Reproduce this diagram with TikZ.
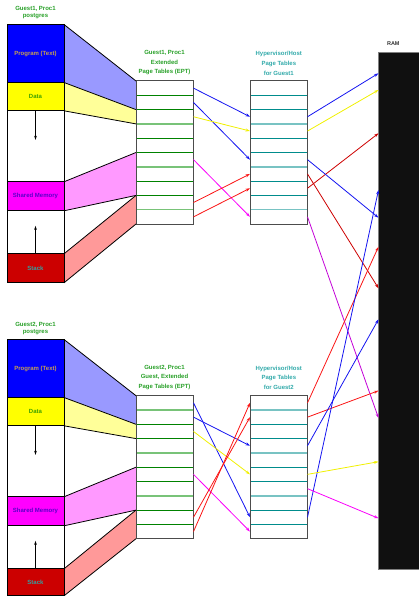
\documentclass[tikz,border=0pt]{standalone}
\usepackage{fontspec}
\setmainfont{Liberation Sans}
\usetikzlibrary{arrows.meta}
\pgfdeclarelayer{background}
\pgfsetlayers{background,main}

% segment colours and their lighter mapping bands
\definecolor{progblue}{RGB}{0,0,255}
\definecolor{lav}{RGB}{153,153,255}
\definecolor{dat}{RGB}{255,255,0}
\definecolor{ldat}{RGB}{255,255,153}
\definecolor{shm}{RGB}{255,0,255}
\definecolor{lshm}{RGB}{255,153,255}
\definecolor{stk}{RGB}{204,0,0}
\definecolor{lstk}{RGB}{255,153,153}
% text colours
\definecolor{ttlgreen}{RGB}{40,160,40}
\definecolor{ttlteal}{RGB}{50,170,170}
\definecolor{progtxt}{RGB}{200,160,80}
\definecolor{dattxt}{RGB}{60,160,0}
\definecolor{shmtxt}{RGB}{90,0,200}
\definecolor{stktxt}{RGB}{50,160,160}
% table rules
\definecolor{eptdark}{RGB}{0,130,0}
\definecolor{eptlight}{RGB}{120,195,120}
\definecolor{hostdark}{RGB}{0,140,140}
\definecolor{hostlight}{RGB}{120,195,195}
\definecolor{ramfill}{RGB}{16,16,16}
% mapping arrows
\definecolor{arblue}{RGB}{20,20,240}
\definecolor{arred}{RGB}{250,20,20}
\definecolor{ardred}{RGB}{205,0,0}
\definecolor{aryel}{RGB}{240,240,0}
\definecolor{armag}{RGB}{250,0,250}
\definecolor{ardmag}{RGB}{195,0,215}

\begin{document}
\begin{tikzpicture}[x=1pt,y=-1pt,
  seg/.style={draw=black, line width=0.8pt, minimum width=57pt, inner sep=0pt,
    outer sep=0pt, anchor=north west, font=\fontsize{6}{7}\selectfont\bfseries},
  cell/.style={minimum width=57.5pt, minimum height=14.3pt, inner sep=0pt,
    outer sep=0pt, anchor=north west},
  tframe/.style={draw=black!70, line width=1pt},
  edge/.style={draw=black, line width=0.8pt},
  ptitle/.style={align=center, inner sep=0pt, font=\fontsize{6}{7}\selectfont\bfseries},
  ttitle/.style={align=center, inner sep=0pt, font=\fontsize{6}{9.7}\selectfont\bfseries},
  ar/.style={line width=0.8pt, -{Stealth[length=4.5pt,width=3pt]}},
  garrow/.style={line width=0.7pt, -{Stealth[length=4pt,width=2.6pt]}},
  erule/.style={eptdark, line width=0.8pt},
  erulel/.style={eptlight, line width=1.4pt},
  hrule/.style={hostdark, line width=0.8pt},
  hrulel/.style={hostlight, line width=1.4pt}]

\useasboundingbox (0,0) rectangle (418,596);

% RAM column
\node[draw=gray, line width=1pt, fill=ramfill, minimum width=44pt, minimum height=517pt,
  anchor=north west, inner sep=0pt, outer sep=0pt] (ram) at (378.5,52.3) {};
\node[font=\fontsize{5.5}{6}\selectfont\bfseries, text=black!80] (ramlbl) at (393.3,43.3) {RAM};

% titles
\node[ptitle, text=ttlgreen] (pt1) at (35.5,12.3) {Guest1, Proc1\\postgres};
\node[ptitle, text=ttlgreen] (pt2) at (35.5,328.2) {Guest2, Proc1\\postgres};
\node[ttitle, text=ttlgreen] (et1) at (164.5,62.6) {Guest1, Proc1\\Extended\\Page Tables (EPT)};
\node[ttitle, text=ttlgreen] (et2) at (164.5,377.4) {Guest2, Proc1\\Guest, Extended\\Page Tables (EPT)};
\node[ttitle, text=ttlteal] (ht1) at (278.8,63.4) {Hypervisor/Host\\Page Tables\\for Guest1};
\node[ttitle, text=ttlteal] (ht2) at (278.8,377.6) {Hypervisor/Host\\Page Tables\\for Guest2};

\foreach \g/\t/\sh/\et in {1/24.5/29/81, 2/339.5/27/395.7}{
  % process address space
  \node[seg, fill=progblue, text=progtxt, minimum height=58pt] (prog\g) at (7,\t) {Program (Text)};
  \node[seg, fill=dat, text=dattxt, minimum height=28.3pt] (data\g) at (prog\g.south west) {Data};
  \node[seg, fill=white, minimum height=71pt] (gapa\g) at (data\g.south west) {};
  \node[seg, fill=shm, text=shmtxt, minimum height=29pt] (shm\g) at (gapa\g.south west) {Shared Memory};
  \node[seg, fill=white, minimum height=43pt] (gapb\g) at (shm\g.south west) {};
  \node[seg, fill=stk, text=stktxt, minimum height=\sh pt] (stk\g) at (gapb\g.south west) {Stack};
  % heap grows down, stack grows up
  \path (data\g.south) ++(0,29) coordinate (dn\g);
  \path (stk\g.north) ++(0,-28) coordinate (up\g);
  \draw[garrow] (data\g.south) -- (dn\g);
  \draw[garrow] (stk\g.north) -- (up\g);

  % guest EPT and host page table entries
  \foreach \i in {1,...,10}{
    \node[cell] (e\g-\i) at (136,{\et+(\i-1)*14.3}) {};
    \node[cell] (h\g-\i) at (250,{\et+(\i-1)*14.3}) {};
  }
}

% entry separators
\foreach \i in {1,2,4,5,7,8}{
  \draw[erule] (e1-\i.south west) -- (e1-\i.south east);
  \draw[hrule] (h1-\i.south west) -- (h1-\i.south east);
}
\foreach \i in {3,6,9}{
  \draw[erulel] (e1-\i.south west) -- (e1-\i.south east);
  \draw[hrulel] (h1-\i.south west) -- (h1-\i.south east);
}
\foreach \i in {2,3,5,6,8,9}{
  \draw[erule] (e2-\i.south west) -- (e2-\i.south east);
  \draw[hrule] (h2-\i.south west) -- (h2-\i.south east);
}
\foreach \i in {1,4,7}{
  \draw[erulel] (e2-\i.south west) -- (e2-\i.south east);
  \draw[hrulel] (h2-\i.south west) -- (h2-\i.south east);
}

\foreach \g in {1,2}{
  \draw[tframe] (e\g-1.north west) rectangle (e\g-10.south east);
  \draw[tframe] (h\g-1.north west) rectangle (h\g-10.south east);

  % bands from segments to EPT entries
  \begin{pgfonlayer}{background}
    \fill[lav] (prog\g.north east) -- (e\g-1.north west) -- (e\g-2.south west) -- (prog\g.south east) -- cycle;
    \fill[ldat] (data\g.north east) -- (e\g-3.north west) -- (e\g-3.south west) -- (data\g.south east) -- cycle;
    \fill[lshm] (shm\g.north east) -- (e\g-6.north west) -- (e\g-8.south west) -- (shm\g.south east) -- cycle;
    \fill[lstk] (stk\g.north east) -- (e\g-9.north west) -- (e\g-10.south west) -- (stk\g.south east) -- cycle;
  \end{pgfonlayer}
  \draw[edge] (prog\g.north east) -- (e\g-1.north west);
  \draw[edge] (prog\g.south east) -- (e\g-2.south west);
  \draw[edge] (data\g.south east) -- (e\g-3.south west);
  \draw[edge] (shm\g.north east) -- (e\g-6.north west);
  \draw[edge] (shm\g.south east) -- (e\g-8.south west);
  \draw[edge] (stk\g.north east) -- (e\g-9.north west);
  \draw[edge] (stk\g.south east) -- (e\g-10.south west);
}

% guest 1: EPT -> host page tables
\draw[ar, arblue] (e1-1.east) -- (h1-3.west);
\draw[ar, arblue] (e1-2.east) -- (h1-6.west);
\draw[ar, aryel] (e1-3.east) -- (h1-4.west);
\draw[ar, armag] (e1-6.east) -- (h1-10.west);
\draw[ar, arred] (e1-9.east) -- (h1-7.west);
\draw[ar, arred] (e1-10.east) -- (h1-8.west);

% guest 2: EPT -> host page tables
\draw[ar, arblue] (e2-1.east) -- (h2-9.west);
\draw[ar, arblue] (e2-2.east) -- (h2-4.west);
\draw[ar, aryel] (e2-3.east) -- (h2-6.west);
\draw[ar, armag] (e2-6.east) -- (h2-10.west);
\draw[ar, arred] (e2-9.east) -- (h2-2.west);
\draw[ar, arred] (e2-10.east) -- (h2-1.west);

% physical frames on the RAM edge
\coordinate (f1a) at (378.5,73.3);
\coordinate (f1b) at (378.5,90);
\coordinate (f1c) at (378.5,133.3);
\coordinate (f1d) at (378.5,217.7);
\coordinate (f1e) at (378.5,288.3);
\coordinate (f1f) at (378.5,418);
\coordinate (f2a) at (378.5,246.7);
\coordinate (f2b) at (378.5,390.7);
\coordinate (f2c) at (378.5,319.3);
\coordinate (f2d) at (378.5,190);
\coordinate (f2e) at (378.5,461.7);
\coordinate (f2f) at (378.5,518.3);

% guest 1: host page tables -> RAM
\draw[ar, arblue] (h1-3.east) -- (f1a);
\draw[ar, aryel] (h1-4.east) -- (f1b);
\draw[ar, ardred] (h1-8.east) -- (f1c);
\draw[ar, arblue] (h1-6.east) -- (f1d);
\draw[ar, ardred] (h1-7.east) -- (f1e);
\draw[ar, ardmag] (h1-10.east) -- (f1f);

% guest 2: host page tables -> RAM
\draw[ar, arred] (h2-1.east) -- (f2a);
\draw[ar, arred] (h2-2.east) -- (f2b);
\draw[ar, arblue] (h2-4.east) -- (f2c);
\draw[ar, arblue] (h2-9.east) -- (f2d);
\draw[ar, aryel] (h2-6.east) -- (f2e);
\draw[ar, armag] (h2-7.east) -- (f2f);

\end{tikzpicture}
\end{document}
